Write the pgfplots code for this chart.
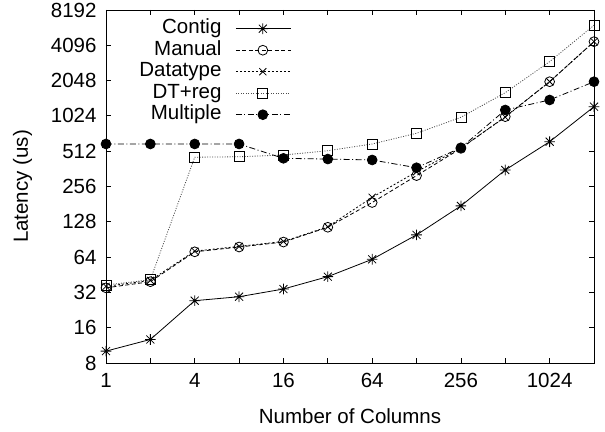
\documentclass[border=0pt]{standalone}
\usepackage{fontspec}
\setmainfont{Liberation Sans}
\usepackage{pgfplots}
\pgfplotsset{compat=1.18}

\pgfdeclareplotmark{gstar}{%
  \pgfpathmoveto{\pgfqpoint{-\pgfplotmarksize}{0pt}}\pgfpathlineto{\pgfqpoint{\pgfplotmarksize}{0pt}}%
  \pgfpathmoveto{\pgfqpoint{0pt}{-\pgfplotmarksize}}\pgfpathlineto{\pgfqpoint{0pt}{\pgfplotmarksize}}%
  \pgfpathmoveto{\pgfqpoint{-.75\pgfplotmarksize}{-.75\pgfplotmarksize}}\pgfpathlineto{\pgfqpoint{.75\pgfplotmarksize}{.75\pgfplotmarksize}}%
  \pgfpathmoveto{\pgfqpoint{-.75\pgfplotmarksize}{.75\pgfplotmarksize}}\pgfpathlineto{\pgfqpoint{.75\pgfplotmarksize}{-.75\pgfplotmarksize}}%
  \pgfusepathqstroke}

\newcommand{\f}{\fontsize{20.5}{23}\selectfont}

\begin{document}
\begin{tikzpicture}
\path[use as bounding box] (-106pt,-68pt) rectangle (499pt,363pt);
\begin{axis}[
  scale only axis, width=488pt, height=353pt,
  xmode=log, ymode=log, log basis x=2, log basis y=2,
  xmin=1, xmax=2048, ymin=8, ymax=8192,
  xtick={1,2,4,8,16,32,64,128,256,512,1024,2048},
  xticklabels={1,,4,,16,,64,,256,,1024,},
  ytick={8,16,32,64,128,256,512,1024,2048,4096,8192},
  yticklabels={8,16,32,64,128,256,512,1024,2048,4096,8192},
  tick align=inside, major tick length=5pt,
  /pgf/number format/assume math mode=true,
  tick label style={font=\f},
  xticklabel style={yshift=-7pt},
  yticklabel style={xshift=-6pt},
  axis line style={line width=0.8pt},
  every tick/.style={line width=0.8pt, black},
  label style={font=\f},
  xlabel={Number of Columns},
  ylabel={Latency (us)},
  xlabel style={at={(axis description cs:0.5,-0.151)}, anchor=center},
  ylabel style={at={(axis description cs:-0.171,0.5)}, anchor=center},
  legend style={draw=none, fill=none, at={(rel axis cs:0.38,0.978)}, anchor=north east,
    legend cell align=right, font=\f, row sep=0pt, inner sep=0pt,
    nodes={text height=15pt, text depth=4.5pt, inner sep=1pt},
    /tikz/every odd column/.append style={column sep=13pt}},
  legend plot pos=right,
  legend image code/.code={\draw[mark repeat=2,mark phase=2] plot coordinates {(0pt,0pt) (27pt,0pt) (55pt,0pt)};},
  every axis plot/.append style={line width=0.8pt, black},
]
\addplot[mark=gstar, mark size=5.3pt, mark options={solid}] coordinates {
 (1,10.1) (2,12.7) (4,27.2) (8,29.4) (16,34.2) (32,43.6) (64,61.3) (128,99) (256,175) (512,354) (1024,617) (2048,1227)};
\addlegendentry{Contig}
\addplot[dash pattern=on 4pt off 2.5pt, mark=o, mark size=4.9pt, mark options={solid}] coordinates {
 (1,35) (2,39.5) (4,71) (8,78) (16,86) (32,115) (64,187) (128,317) (256,541) (512,1009) (1024,2004) (2048,4400)};
\addlegendentry{Manual}
\addplot[dash pattern=on 2pt off 2pt, mark=x, mark size=5pt, mark options={solid}] coordinates {
 (1,36) (2,40.5) (4,72) (8,79) (16,87) (32,116) (64,207) (128,342) (256,545) (512,1000) (1024,2004) (2048,4400)};
\addlegendentry{Datatype}
\addplot[dash pattern=on 1pt off 1.5pt, mark=square, mark size=5pt, mark options={solid, black}, draw=black!70] coordinates {
 (1,37) (2,41) (4,455) (8,459) (16,475) (32,517) (64,590) (128,728) (256,996) (512,1616) (1024,2970) (2048,6070)};
\addlegendentry{DT+reg}
\addplot[dash pattern=on 6pt off 2.5pt on 1pt off 2.5pt, mark=*, mark size=4.9pt, mark options={solid, fill=black}] coordinates {
 (1,590) (2,590) (4,590) (8,590) (16,445) (32,439) (64,431) (128,370) (256,548) (512,1150) (1024,1400) (2048,2004)};
\addlegendentry{Multiple}
\end{axis}
\end{tikzpicture}
\end{document}
